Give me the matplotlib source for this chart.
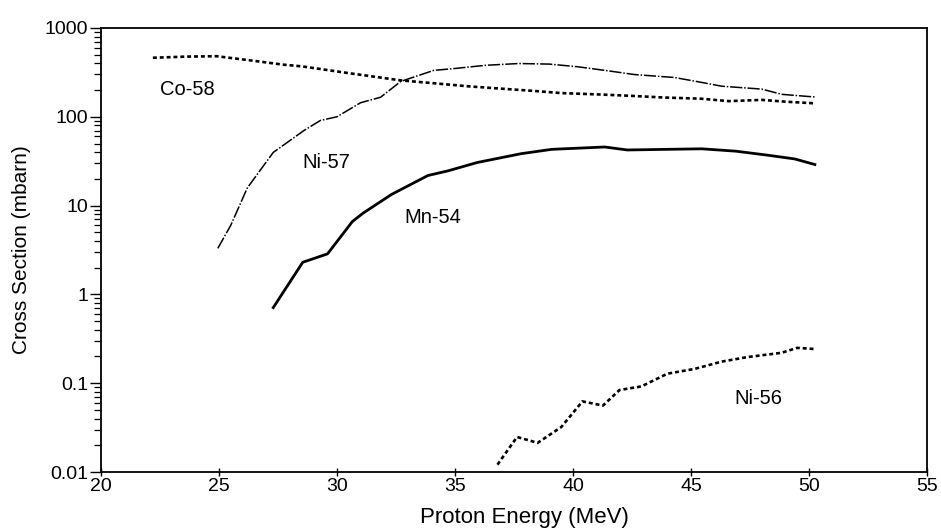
import matplotlib
matplotlib.use("Agg")
import matplotlib.pyplot as plt
from matplotlib.ticker import LogLocator, NullFormatter, FixedLocator, FixedFormatter

plt.rcParams['font.family'] = ['Liberation Sans', 'DejaVu Sans']

# ---- data ----
co58_E = [22.2, 23.6, 24.9, 26.5, 27.7, 28.5, 29.2, 30.5, 31.7, 32.7, 34.0, 35.5,
          37.0, 38.4, 39.5, 41.2, 42.5, 43.8, 45.4, 46.6, 48.0, 49.0, 50.2]
co58_V = [462, 476, 481, 426, 387, 370, 348, 310, 280, 257, 240, 221,
          207, 195, 185, 178, 172, 165, 160, 150, 155, 148, 142]

ni57_E = [24.95, 25.5, 26.2, 27.3, 28.6, 29.3, 30.0, 31.0, 31.85, 32.7, 34.1, 35.0,
          36.3, 37.7, 39.0, 40.2, 41.5, 42.6, 44.3, 45.45, 46.3, 48.0, 48.85, 50.25]
ni57_V = [3.3, 6.0, 15.8, 39.7, 70, 91, 100, 144, 166, 250, 333, 350,
          380, 398, 392, 366, 329, 299, 277, 244, 221, 205, 179, 167]

mn54_E = [27.3, 28.55, 29.6, 30.65, 31.1, 32.3, 33.85, 34.7, 35.95, 37.8, 39.1,
          41.35, 42.3, 44.0, 45.45, 46.9, 48.3, 49.4, 50.25]
mn54_V = [0.71, 2.3, 2.86, 6.6, 8.2, 13.3, 21.8, 24.6, 30.6, 38.4, 43,
          45.7, 42.3, 43, 43.6, 41, 36.8, 33.5, 29]

ni56_E = [36.8, 37.63, 38.5, 39.5, 40.4, 41.27, 41.97, 42.9, 44.0, 45.16, 46.3,
          47.4, 48.84, 49.5, 50.2]
ni56_V = [0.0121, 0.0248, 0.0213, 0.032, 0.0624, 0.056, 0.0838, 0.092, 0.128,
          0.145, 0.175, 0.197, 0.22, 0.25, 0.243]

labels = ["Co-58", "Ni-57", "Mn-54", "Ni-56"]
label_E = [23.65, 29.56, 34.06, 47.87]
label_V = [204, 30.5, 7.4, 0.0673]

x_ticks = [20, 25, 30, 35, 40, 45, 50, 55]
y_ticks = [0.01, 0.1, 1, 10, 100, 1000]
y_tick_labels = ["0.01", "0.1", "1", "10", "100", "1000"]

# ---- figure ----
fig = plt.figure(figsize=(9.41, 5.31), dpi=100)
ax = fig.add_axes([0.1073, 0.1111, 0.8778, 0.8362])

ax.plot(co58_E, co58_V, color='black', lw=1.9, linestyle=(0, (1.5, 1.1)))
ax.plot(ni57_E, ni57_V, color='black', lw=1.1, linestyle=(0, (8, 1.2, 1, 1.2)))
ax.plot(mn54_E, mn54_V, color='black', lw=2.0, linestyle='-')
ax.plot(ni56_E, ni56_V, color='black', lw=1.9, linestyle=(0, (1.5, 1.1)))

for t, e, v in zip(labels, label_E, label_V):
    ax.text(e, v, t, ha='center', va='center', fontsize=14.5, color='black')

ax.set_yscale('log')
ax.set_xlim(20, 55)
ax.set_ylim(0.01, 1000)

ax.xaxis.set_major_locator(FixedLocator(x_ticks))
ax.set_xticklabels([str(v) for v in x_ticks])
ax.yaxis.set_major_locator(FixedLocator(y_ticks))
ax.yaxis.set_major_formatter(FixedFormatter(y_tick_labels))
ax.yaxis.set_minor_locator(LogLocator(base=10, subs=range(2, 10), numticks=20))
ax.yaxis.set_minor_formatter(NullFormatter())

ax.tick_params(axis='y', which='major', direction='out', length=8, width=1.0,
               labelsize=14, pad=1)
ax.tick_params(axis='y', which='minor', direction='out', length=5, width=0.9)
ax.tick_params(axis='x', which='major', direction='inout', length=6, width=1.0,
               labelsize=14, pad=1)

for s in ax.spines.values():
    s.set_linewidth(1.3)

ax.set_xlabel("Proton Energy (MeV)", fontsize=16)
ax.xaxis.set_label_coords(0.513, -0.078)
ax.set_ylabel("Cross Section (mbarn)", fontsize=15, labelpad=10)

fig.savefig("out.png", dpi=100)
